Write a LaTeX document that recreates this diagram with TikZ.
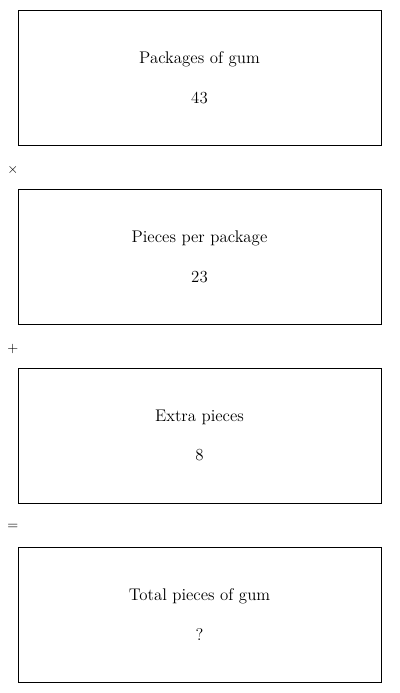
\documentclass[tikz,border=0pt]{standalone}
\usepackage{tikz}
\usetikzlibrary{positioning, calc}

\begin{document}
\begin{tikzpicture}[
  node distance=1.1cm,
  qbox/.style={rectangle, draw=black, line width=0.7pt, minimum width=9.075cm,
               minimum height=3.375cm, inner sep=0pt, outer sep=0pt, align=center,
               font=\fontsize{12}{14}\selectfont},
  oplabel/.style={inner sep=0pt}
]
\useasboundingbox (0,0) rectangle (10,-17.325);

\node[qbox] (pkg) at (4.9875,-1.9375) {Packages of gum\\[0.5cm]43};
\node[qbox, below=of pkg] (per) {Pieces per package\\[0.5cm]23};
\node[qbox, below=of per] (extra) {Extra pieces\\[0.5cm]8};
\node[qbox, below=of extra] (total) {Total pieces of gum\\[0.5cm]?};

% operators between the boxes
\node[oplabel] (times) at ($(pkg.south west)+(-0.13,-0.625)$) {$\times$};
\node[oplabel] (plus) at ($(per.south west)+(-0.13,-0.625)$) {$+$};
\node[oplabel] (equals) at ($(extra.south west)+(-0.13,-0.6)$) {$=$};

\end{tikzpicture}
\end{document}
